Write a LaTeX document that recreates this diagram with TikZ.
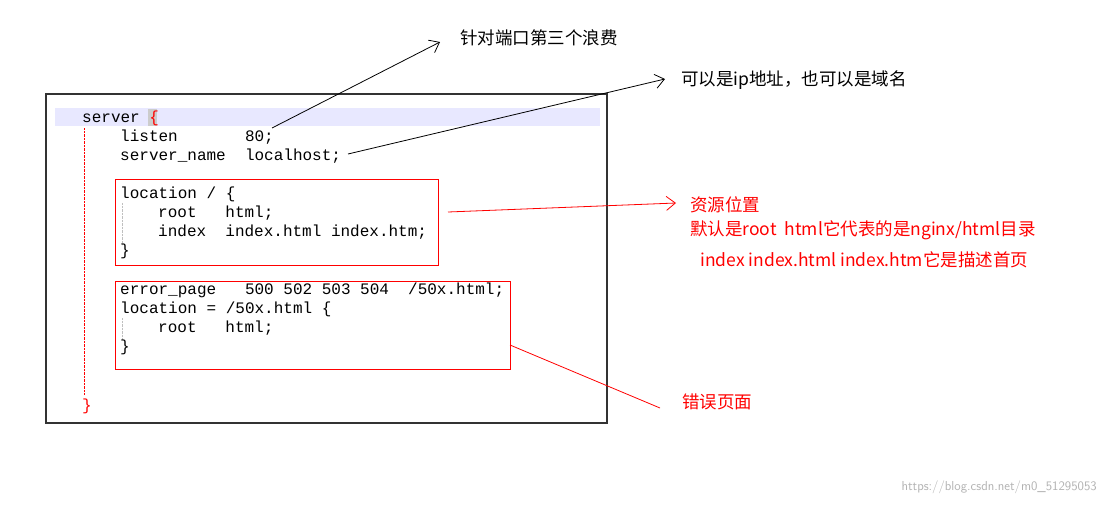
\documentclass[tikz,border=0pt]{standalone}
\usepackage{fontspec}
\setmonofont{Liberation Mono}
\newfontfamily\cjk{Noto Sans CJK SC}
\usetikzlibrary{arrows.meta}
\begin{document}
\begin{tikzpicture}[x=1pt,y=-1pt,
  code/.style={anchor=west,inner sep=0pt,font=\fontsize{16}{16}\ttfamily},
  note/.style={anchor=west,inner sep=0pt,font=\fontsize{17.5}{17.5}\cjk},
  rnote/.style={note,text=red},
  redbox/.style={draw=red,line width=1pt},
  barb/.style={line width=0.8pt,-{Straight Barb[length=9pt,width=14pt]}}]
\useasboundingbox (0,0) rectangle (1106,504);
\fill[white] (0,0) rectangle (1106,504);
\draw[line width=1.1pt,black!80] (46,94) rectangle (607,423);
\fill[blue!9] (55,108) rectangle (600,126);
\fill[black!20] (148,109) rectangle (157,126);
\draw[red,densely dotted] (84,128) -- (84,395);
\draw[black!25,densely dotted] (122,203) -- (122,245);
\draw[black!25,densely dotted] (122,318) -- (122,340);
\node[code] (srv) at (82,118) {server \textcolor{red}{\{}};
\node[code] (listen) at (120,137) {listen\ \ \ \ \ \ \ 80;};
\node[code] (sname) at (120,156) {server\_name\ \ localhost;};
\node[code] at (120,194) {location / \{};
\node[code] at (158,213) {root\ \ \ html;};
\node[code] at (158,232) {index\ \ index.html index.htm;};
\node[code] at (120,251) {\}};
\node[code] at (120,290) {error\_page\ \ \ 500 502 503 504\ \ /50x.html;};
\node[code] at (120,309) {location = /50x.html \{};
\node[code] at (158,328) {root\ \ \ html;};
\node[code] at (120,347) {\}};
\node[code,text=red] at (82,406) {\}};
\draw[redbox] (115,179) rectangle (438,265);
\draw[redbox] (115,281) rectangle (510,369);
\coordinate (b1) at (448,212);
\coordinate (b2) at (510,345);
\node[note] (n1) at (460,38) {针对端口第三个浪费};
\node[note] (n2) at (681,80) {可以是ip地址，也可以是域名};
\node[rnote] (n3) at (690,205) {资源位置};
\node[rnote] at (690,230) {默认是root\ \ html它代表的是nginx/html目录};
\node[rnote] at (700,260) {index index.html index.htm它是描述首页};
\node[rnote] (n4) at (682,402) {错误页面};
\coordinate (t1) at (440,42);
\coordinate (t2) at (665,79);
\coordinate (t3) at (676,203);
\coordinate (t4) at (660,408);
\draw[barb] (272,128) -- (t1);
\draw[barb] (348,154) -- (t2);
\draw[barb,red] (b1) -- (t3);
\draw[red,line width=0.8pt] (b2) -- (t4);
\node[anchor=east,inner sep=0pt,text=black!30,font=\fontsize{13}{13}\sffamily] at (1097,487) {https://blog.csdn.net/m0\_51295053};
\end{tikzpicture}
\end{document}
